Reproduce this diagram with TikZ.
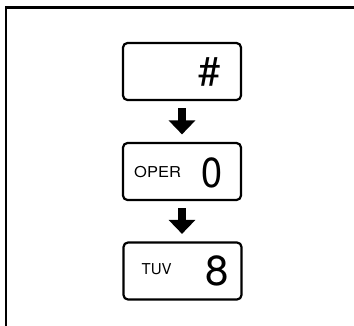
\documentclass[tikz,border=0pt]{standalone}
\usepackage{fontspec}
\setsansfont{TeX Gyre Heros}
\usetikzlibrary{arrows.meta,positioning}

\begin{document}
\begin{tikzpicture}[
  x=1pt,
  y=-1pt,
  frame/.style={draw=black,line width=2.4pt},
  keybox/.style={draw=black,line width=2.2pt,rounded corners=4.5pt,minimum width=118pt,minimum height=57pt,inner sep=0pt},
  flow/.style={line width=8.5pt,-{Triangle[length=14pt,width=26pt]},shorten <=7pt,shorten >=7.5pt},
  lab/.style={font=\sffamily\fontsize{15}{15}\selectfont,anchor=base west,inner sep=0pt},
  digit/.style={font=\sffamily\fontsize{42}{42}\selectfont,anchor=base east,inner sep=0pt}
]
\useasboundingbox (0,0) rectangle (354,325);
\draw[frame] (6,326) -- (6,7.3) -- (355,7.3);
\node[keybox] (hash) at (182,71.5) {};
\node[keybox] (oper) at (182,171.5) {};
\node[keybox] (tuv) at (182.5,271) {};
\node[font=\sffamily\fontsize{40}{40}\selectfont,inner sep=0pt] (hashsign) at (209.5,72) {\#};
\node[lab] (operlab) at (134,177.3) {\scalebox{1.1}[1]{OPER}};
\node[digit] (zero) at (222.5,187) {\scalebox{0.9}[1]{0}};
\node[lab] (tuvlab) at (141.5,274.7) {TUV};
\node[digit] (eight) at (229,285.3) {8};
\draw[flow] (hash) -- (oper);
\draw[flow] (oper.south) -- (oper.south |- tuv.north);
\end{tikzpicture}
\end{document}
